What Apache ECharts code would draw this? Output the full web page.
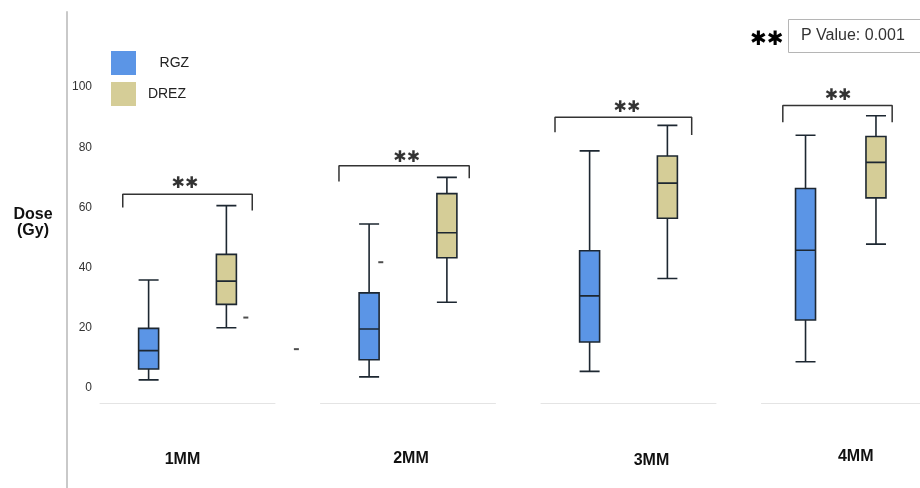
<!DOCTYPE html>
<html>
<head>
<meta charset="utf-8">
<script src="https://cdn.jsdelivr.net/npm/echarts@6/dist/echarts.min.js"></script>
<style>
  html, body { margin: 0; padding: 0; background: #fff; }
  #main { width: 920px; height: 488px; }
</style>
</head>
<body>
<div id="main"></div>
<script>
// data
var groups = ['1MM', '2MM', '3MM', '4MM'];
// [min, Q1, median, Q3, max]
var rgz = [
    [2.7, 6.3, 12.4, 19.8, 35.9],
    [3.7, 9.4, 19.6, 31.6, 54.5],
    [5.5, 15.3, 30.6, 45.6, 78.8],
    [8.7, 22.6, 45.8, 66.3, 84.0]
];
var drez = [
    [20.0, 27.8, 35.5, 44.4, 60.6],
    [28.5, 43.3, 51.6, 64.6, 70.0],
    [36.4, 56.4, 68.1, 77.1, 87.3],
    [47.8, 63.2, 75.0, 83.6, 90.5]
];
// stray points: [group, slot position, value]
var outliers = [[0, 7.5, 23.4], [0, 10.1, 12.9], [1, 3.1, 41.8]];
// significance brackets: [x left, x right, top, left end, right end]
var brackets = [
    [1.17, 7.83, 64.4, 60.0, 59.0],
    [0.95, 7.65, 73.9, 68.6, 69.7],
    [0.72, 7.75, 90.0, 85.0, 84.1],
    [1.21, 7.42, 93.9, 88.3, 88.3]
];
var stars = [[4.37, 67.8], [4.43, 76.6], [4.42, 93.0], [4.35, 97.2]];
var yTicks = [0, 20, 40, 60, 80, 100];
var pText = 'P Value: 0.001';

// layout / style
var slots = ['', '', '', '', '', '', '', '', ''];
var rgzSlot = 2, drezSlot = 6;
var gridLeft = [100, 320.5, 541, 761.5];
var labelShift = [[-5, 9], [3, 8], [23, 10], [15, 6]];
var blue = '#5b95e6', olive = '#d5cd97', edge = '#1d2731';
var starChar = '\u2731';
var starFont = { fontFamily: 'DejaVu Sans', fontWeight: 'normal', color: '#000' };

var chart = echarts.init(document.getElementById('main'));

var grid = [], xAxis = [], yAxis = [], series = [];
for (var g = 0; g < groups.length; g++) {
    grid.push({ left: gridLeft[g], width: 175, top: 42, bottom: 85 });
    var sh = labelShift[g];
    // RGZ axis (draws the light base line and the group name)
    xAxis.push({
        type: 'category', gridIndex: g, data: slots,
        axisLine: { show: true, onZero: false, lineStyle: { color: '#e4e4e4', width: 1 } },
        axisTick: { show: false }, axisLabel: { show: false },
        name: groups[g], nameLocation: 'middle', nameGap: 40,
        nameTextStyle: {
            fontFamily: 'Liberation Sans', fontWeight: 'bold', fontSize: 16, color: '#111',
            padding: [sh[1], sh[0] < 0 ? -2 * sh[0] : 0, 0, sh[0] > 0 ? 2 * sh[0] : 0]
        }
    });
    // DREZ axis
    xAxis.push({ type: 'category', gridIndex: g, data: slots, show: false });
    // value axis for the annotations
    xAxis.push({ type: 'value', gridIndex: g, min: 0, max: 9, show: false });

    yAxis.push({
        type: 'value', gridIndex: g, min: -5, max: 115, show: g === 0,
        axisLine: { show: false }, axisTick: { show: false }, splitLine: { show: false },
        axisLabel: {
            customValues: yTicks, margin: 8,
            fontFamily: 'Liberation Sans', fontSize: 12, color: '#333'
        },
        name: g === 0 ? 'Dose\n(Gy)' : '', nameLocation: 'middle', nameRotate: 0, nameGap: 67,
        nameTextStyle: {
            fontFamily: 'Liberation Sans', fontWeight: 'bold', fontSize: 16,
            lineHeight: 16, color: '#111', align: 'center'
        }
    });

    series.push({
        name: 'RGZ', type: 'boxplot', xAxisIndex: 3 * g, yAxisIndex: g,
        encode: { x: 0, y: [1, 2, 3, 4, 5] },
        data: [[rgzSlot].concat(rgz[g])],
        boxWidth: [20, 20],
        itemStyle: { color: blue, borderColor: edge, borderWidth: 1.6 },
        emphasis: { disabled: true }
    });
    series.push({
        name: 'DREZ', type: 'boxplot', xAxisIndex: 3 * g + 1, yAxisIndex: g,
        encode: { x: 0, y: [1, 2, 3, 4, 5] },
        data: [[drezSlot].concat(drez[g])],
        boxWidth: [20, 20],
        itemStyle: { color: olive, borderColor: edge, borderWidth: 1.6 },
        emphasis: { disabled: true }
    });

    // bracket
    var b = brackets[g];
    series.push({
        type: 'line', xAxisIndex: 3 * g + 2, yAxisIndex: g, silent: true,
        showSymbol: false, clip: false,
        lineStyle: { color: '#333', width: 1.5 },
        data: [[b[0], b[3]], [b[0], b[2]], [b[1], b[2]], [b[1], b[4]]]
    });
    // stars above bracket
    series.push({
        type: 'scatter', xAxisIndex: 3 * g + 2, yAxisIndex: g, silent: true,
        symbolSize: 1, itemStyle: { color: 'rgba(0,0,0,0)' },
        label: Object.assign({
            show: true, position: 'inside', formatter: starChar + starChar, fontSize: 16
        }, starFont),
        data: [stars[g]]
    });
}

// stray points
for (var i = 0; i < outliers.length; i++) {
    var o = outliers[i];
    series.push({
        type: 'scatter', xAxisIndex: 3 * o[0] + 2, yAxisIndex: o[0], silent: true,
        clip: false, symbol: 'rect', symbolSize: [5, 2],
        itemStyle: { color: '#222' },
        data: [[o[1], o[2]]]
    });
}

// tall grey rule on the left
grid.push({ left: 67, width: 1, top: 12, bottom: 0 });
xAxis.push({ type: 'value', gridIndex: 4, show: false });
yAxis.push({
    type: 'value', gridIndex: 4, min: 0, max: 1,
    axisLine: { show: true, lineStyle: { color: '#c9c9c9', width: 2 } },
    axisTick: { show: false }, axisLabel: { show: false }, splitLine: { show: false }
});

var option = {
    backgroundColor: '#fff',
    animation: false,
    title: [{
        text: pText, left: 788, top: 19,
        borderColor: '#b5b5b5', borderWidth: 1, padding: [9, 16, 9, 13],
        textStyle: { fontFamily: 'Liberation Sans', fontWeight: 'normal', fontSize: 16, color: '#333' }
    }, {
        text: starChar + starChar, left: 745, top: 25,
        textStyle: Object.assign({ fontSize: 20 }, starFont)
    }],
    legend: {
        data: [
            { name: 'RGZ', itemStyle: { color: blue, borderWidth: 0 } },
            { name: 'DREZ', itemStyle: { color: olive, borderWidth: 0 } }
        ],
        orient: 'vertical', left: 111, top: 51, padding: 0,
        icon: 'rect', itemWidth: 25, itemHeight: 24, itemGap: 7,
        formatter: function (name) {
            return name === 'RGZ' ? '    RGZ' : ' DREZ';
        },
        textStyle: {
            fontFamily: 'Liberation Sans', fontSize: 14, color: '#222',
            padding: [0, 0, 0, 3]
        }
    },
    grid: grid,
    xAxis: xAxis,
    yAxis: yAxis,
    series: series
};
chart.setOption(option);
</script>
</body>
</html>
